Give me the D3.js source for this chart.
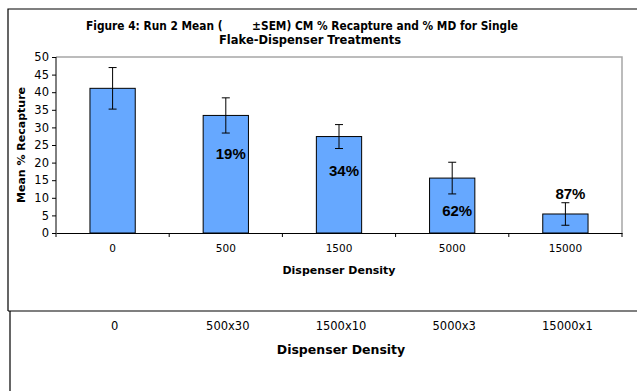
<!DOCTYPE html>
<html>
<head>
<meta charset="utf-8">
<script src="https://cdn.jsdelivr.net/npm/d3@7"></script>
<style>
  body { margin: 0; background: #fff; }
  svg { display: block; }
  .tick text { font-family: "DejaVu Sans", Verdana, sans-serif; }
</style>
</head>
<body>
<svg id="chart" width="637" height="391"></svg>
<script>
// values
const densities = ['0', '500', '1500', '5000', '15000'];
const treatments = ['0', '500x30', '1500x10', '5000x3', '15000x1'];
const meanRecapture = [41.1, 33.4, 27.4, 15.6, 5.4];
const sem = [5.9, 5.0, 3.4, 4.5, 3.2];
const mdLabels = ['', '19%', '34%', '62%', '87%'];
const mdLabelY = [0, 21.0, 16.3, 4.9, 9.6];   // baseline, in % recapture units
const yTicks = [0, 5, 10, 15, 20, 25, 30, 35, 40, 45, 50];

const svg = d3.select('#chart');
const margin = {left: 56, right: 15, top: 57, bottom: 158};
const plotW = 637 - margin.left - margin.right;
const plotH = 391 - margin.top - margin.bottom;

// outer chart frame (runs off the right edge) and lower panel
svg.append('path')
    .attr('d', 'M8,311 L8,9 L640,9 M8,311 L640,311 M10,311 L10,391')
    .attr('fill', 'none')
    .attr('stroke', '#000')
    .attr('stroke-width', 1.2);

const g = svg.append('g').attr('transform', `translate(${margin.left},${margin.top})`);

const x = d3.scaleBand().domain(densities).range([0, plotW]).paddingInner(0.6).paddingOuter(0.3);
const y = d3.scaleLinear().domain([0, 50]).range([plotH, 0]);

// plot area border (grey top & right)
g.append('path')
    .attr('d', `M0,0 H${plotW} V${plotH}`)
    .attr('fill', 'none')
    .attr('stroke', '#a6a6a6')
    .attr('stroke-width', 1.5);

g.selectAll('rect.bar')
    .data(meanRecapture)
    .enter().append('rect')
    .attr('class', 'bar')
    .attr('x', (d, i) => x(densities[i]))
    .attr('y', d => y(d))
    .attr('width', x.bandwidth())
    .attr('height', d => plotH - y(d))
    .attr('fill', '#66a8ff')
    .attr('stroke', '#000')
    .attr('stroke-width', 1);

// error bars
const eb = g.selectAll('g.err')
    .data(meanRecapture)
    .enter().append('g')
    .attr('class', 'err')
    .attr('transform', (d, i) => `translate(${x(densities[i]) + x.bandwidth() / 2},0)`)
    .attr('stroke', '#000')
    .attr('stroke-width', 1);
eb.append('line').attr('y1', (d, i) => y(d + sem[i])).attr('y2', (d, i) => y(d - sem[i]));
eb.append('line').attr('x1', -4).attr('x2', 4).attr('y1', (d, i) => y(d + sem[i])).attr('y2', (d, i) => y(d + sem[i]));
eb.append('line').attr('x1', -4).attr('x2', 4).attr('y1', (d, i) => y(d - sem[i])).attr('y2', (d, i) => y(d - sem[i]));

// % MD labels
g.selectAll('text.md')
    .data(mdLabels)
    .enter().append('text')
    .attr('class', 'md')
    .attr('x', (d, i) => x(densities[i]) + x.bandwidth() / 2 + 5)
    .attr('y', (d, i) => y(mdLabelY[i]))
    .attr('text-anchor', 'middle')
    .attr('font-family', '"Liberation Sans", Arial, sans-serif')
    .attr('font-weight', 'bold')
    .attr('font-size', 15)
    .text(d => d);

// axes
const yAxis = g.append('g')
    .call(d3.axisLeft(y).tickValues(yTicks).tickSize(4).tickSizeOuter(0));
yAxis.select('.domain').attr('stroke', '#000').attr('d', `M0,0 V${plotH + 4}`);
yAxis.selectAll('.tick text').attr('font-size', 11.5).attr('fill', '#000').attr('x', -7);

const xAxis = g.append('g')
    .attr('transform', `translate(0,${plotH})`)
    .call(d3.axisBottom(x).tickSize(0).tickSizeOuter(0));
xAxis.select('.domain').attr('stroke', '#000');
xAxis.selectAll('.tick text').attr('font-size', 10.5).attr('fill', '#000').attr('dy', '1.55em');

// tick marks at band boundaries
const bounds = densities.slice(1).map(d => x(d) - x.step() * x.paddingInner() / 2).concat([plotW]);
xAxis.selectAll('line.sep')
    .data(bounds)
    .enter().append('line')
    .attr('class', 'sep')
    .attr('x1', d => d).attr('x2', d => d)
    .attr('y1', 0).attr('y2', 4)
    .attr('stroke', '#000');

// titles
svg.append('text')
    .attr('x', 21).attr('y', margin.top + plotH / 2)
    .attr('transform', `rotate(-90,21,${margin.top + plotH / 2})`)
    .attr('text-anchor', 'middle')
    .attr('dominant-baseline', 'central')
    .attr('font-family', '"DejaVu Sans", Verdana, sans-serif')
    .attr('font-weight', 'bold')
    .attr('font-size', 11)
    .text('Mean % Recapture');

svg.append('text')
    .attr('x', margin.left + plotW / 2).attr('y', 274)
    .attr('text-anchor', 'middle')
    .attr('font-family', '"DejaVu Sans", Verdana, sans-serif')
    .attr('font-weight', 'bold')
    .attr('font-size', 11)
    .text('Dispenser Density');

svg.append('text')
    .attr('x', 86).attr('y', 30)
    .attr('textLength', 432)
    .attr('lengthAdjust', 'spacingAndGlyphs')
    .attr('font-family', '"DejaVu Sans", Tahoma, sans-serif')
    .attr('font-weight', 'bold')
    .attr('font-size', 11.5)
    .style('white-space', 'pre')
    .text('Figure 4: Run 2 Mean (        \u00B1SEM) CM % Recapture and % MD for Single');

svg.append('text')
    .attr('x', 310).attr('y', 44)
    .attr('text-anchor', 'middle')
    .attr('font-family', '"DejaVu Sans", Tahoma, sans-serif')
    .attr('font-weight', 'bold')
    .attr('font-size', 11.5)
    .text('Flake-Dispenser Treatments');

// lower panel: treatment labels
svg.selectAll('text.treat')
    .data(treatments)
    .enter().append('text')
    .attr('class', 'treat')
    .attr('x', (d, i) => margin.left + x(densities[i]) + x.bandwidth() / 2 + 2)
    .attr('y', 330)
    .attr('text-anchor', 'middle')
    .attr('font-family', '"DejaVu Sans", Verdana, sans-serif')
    .attr('font-size', 11.5)
    .text(d => d);

svg.append('text')
    .attr('x', margin.left + plotW / 2 + 2).attr('y', 354)
    .attr('text-anchor', 'middle')
    .attr('font-family', '"DejaVu Sans", Verdana, sans-serif')
    .attr('font-weight', 'bold')
    .attr('font-size', 12.5)
    .text('Dispenser Density');
</script>
</body>
</html>
